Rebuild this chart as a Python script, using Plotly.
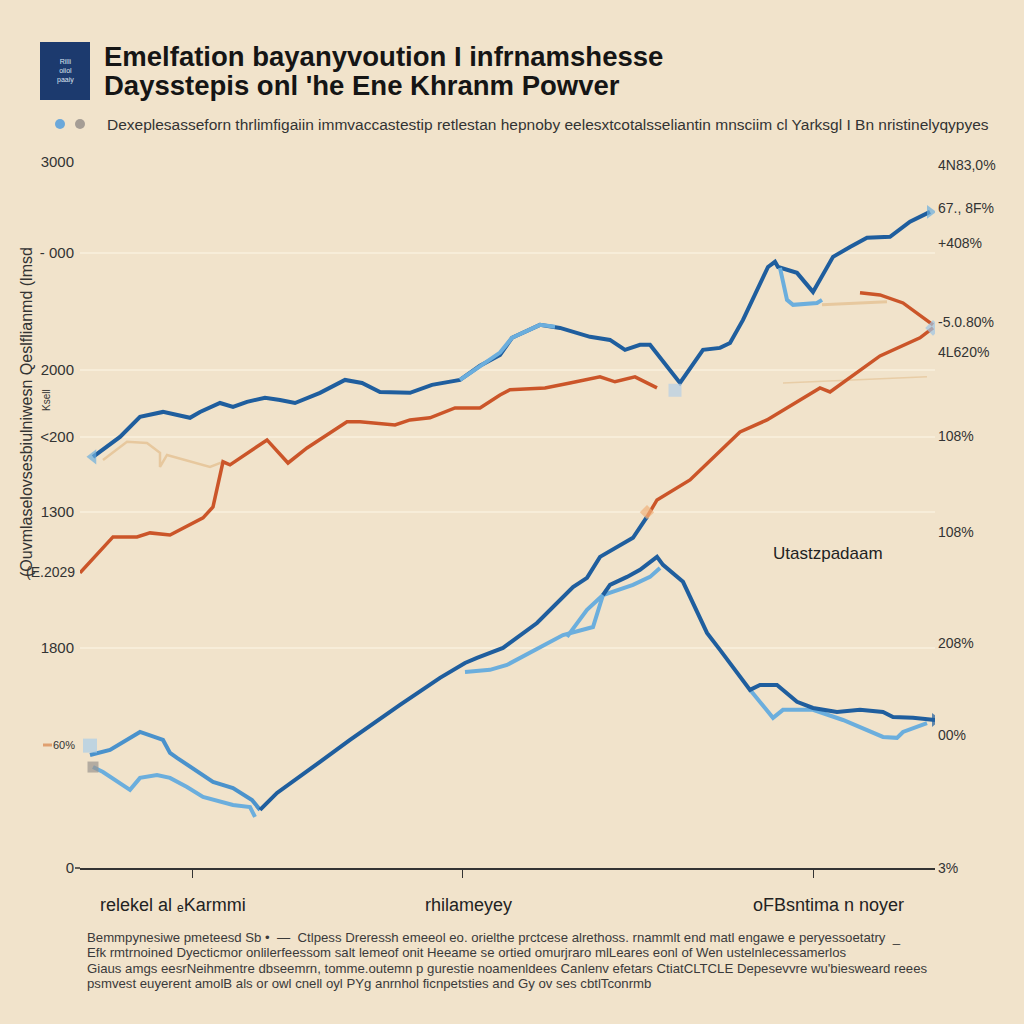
import plotly.graph_objects as go

# ---------------- data ----------------
# upper dark-blue line
up_x = [2.6, 8, 12, 16.6, 22, 24, 28, 30.6, 33.4, 37, 40, 43, 48, 53, 56.4, 60, 66, 70.4, 76, 80, 84, 86.4, 92, 96,
        102, 106, 109, 112, 114, 120, 124.6, 128, 130, 132.6, 137.6, 139, 139.6, 143.4, 146.6, 150.6, 154, 157.4, 162, 166, 170]
up_y = [1747, 1832, 1917, 1938, 1913, 1938, 1976, 1959, 1981, 1998, 1989, 1976, 2019, 2074, 2061, 2023, 2019, 2053, 2074, 2134, 2180, 2253, 2308, 2295,
        2257, 2244, 2202, 2223, 2223, 2061, 2202, 2210, 2231, 2329, 2554, 2576, 2554, 2529, 2448, 2597, 2639, 2678, 2682, 2746, 2788]
# light-blue overlay on the upper line
upl_x = [76, 80, 84, 86.4, 92, 95]
upl_y = [2074, 2134, 2190, 2253, 2308, 2300]
# light-blue branch after the upper peak
upb_x = [140, 141.4, 142.6, 147.4, 148.4]
upb_y = [2550, 2414, 2393, 2401, 2414]

# upper orange line
or_x = [0, 6.6, 11.4, 14, 18, 24.6, 26.6, 28.6, 30, 37.4, 41.6, 45.4, 53.4, 56, 63, 66, 70, 75, 80, 84, 86, 93, 98, 104, 107, 111, 115.4]
or_y = [1254, 1407, 1407, 1424, 1415, 1488, 1534, 1726, 1713, 1819, 1721, 1785, 1896, 1896, 1883, 1904, 1913, 1955, 1955, 2010, 2032, 2040, 2061, 2087, 2066, 2087, 2040]
# orange segment, upper right
or2_x = [156, 160, 164.6, 170.6]
or2_y = [2444, 2435, 2401, 2308]

# rising line: blue part then orange part
ris_x = [36, 39.4, 48, 54, 64, 72, 77, 79.4, 84.6, 91.4, 98.6, 101.4, 104, 110.6, 113.4]
ris_y = [247, 319, 451, 544, 693, 808, 871, 893, 935, 1041, 1194, 1233, 1322, 1403, 1492]
riso_x = [113.4, 115.4, 122, 132, 137.4, 148, 150, 160, 168, 170.6]
riso_y = [1492, 1564, 1649, 1853, 1904, 2040, 2023, 2176, 2253, 2295]

# lower-left medium blue line
ll_x = [2, 6, 12, 16.6, 18, 19.4, 26.6, 30.6, 34.4, 36]
ll_y = [480, 502, 578, 544, 489, 468, 366, 340, 289, 247]
# lower-left light line
lll_x = [2.6, 4.6, 10, 12, 15.4, 18, 21.4, 24.6, 30.6, 34, 35]
lll_y = [429, 408, 332, 383, 395, 383, 344, 302, 268, 259, 217]

# peak and descent (dark)
pk_x = [104.6, 106, 109.4, 112, 115.4, 116.6, 120.6, 125.4, 128, 134, 136, 139.4, 143.4, 146.6, 151.4, 156, 160.6, 162.6, 166.6, 171]
pk_y = [1160, 1203, 1237, 1267, 1322, 1288, 1216, 999, 927, 757, 778, 778, 706, 680, 663, 672, 663, 642, 638, 629]
# light line under the rising one
lm_x = [77, 82, 85.4, 96.6, 102.6, 104.6, 110.6, 114, 116]
lm_y = [833, 842, 863, 990, 1024, 1160, 1203, 1237, 1275]
lm2_x = [97.4, 101.4, 104.6]
lm2_y = [982, 1097, 1160]
# light line, lower right
lr_x = [134, 138.6, 140.6, 146.6, 152.6, 160.6, 163.4, 164.6, 169.4]
lr_y = [757, 638, 672, 672, 629, 557, 553, 578, 616]

# faint beige lines
b1_x = [4.6, 9.4, 13.4, 16, 16, 17.4, 26, 28.6]
b1_y = [1734, 1811, 1806, 1764, 1704, 1755, 1704, 1726]
b2_x = [148.4, 161.4]
b2_y = [2393, 2406]
b3_x = [140.6, 156, 169.4]
b3_y = [2061, 2074, 2087]

left_tick_vals = [3000, 2614, 2117, 1832, 1513, 935, 0]
left_tick_text = ["3000", "- 000", "2000", "<200", "1300", "1800", "0"]
right_tick_vals = [2988, 2805, 2656, 2321, 2193, 1836, 1428, 956, 565, 0]
right_tick_text = ["4N83,0%", "67., 8F%", "+408%", "-5.0.80%", "4L620%", "108%", "108%", "208%", "00%", "3%"]
cat_ticks = [22.4, 76.4, 146.6]
cat_labels = ["relekel al ₑKarmmi", "rhilameyey", "oFBsntima n noyer"]

title1 = "Emelfation bayanyvoution I infrnamshesse"
title2 = "Daysstepis onl 'he Ene Khranm Powver"
legend_text = ("Dexeplesasseforn thrlimfigaiin immvaccastestip retlestan hepnoby "
               "eelesxtcotalsseliantin mnsciim cl Yarksgl I Bn nristinelyqypyes")
foot = [
    "Bemmpynesiwe pmeteesd Sb •  —  Ctlpess Dreressh emeeol eo. orielthe prctcese alrethoss. rnammlt end matl engawe e peryessoetatry  _",
    "Efk rmtrnoined Dyecticmor onlilerfeessom salt lemeof onit Heeame se ortied omurjraro mlLeares eonl of Wen ustelnlecessamerlos",
    "Giaus amgs eesrNeihmentre dbseemrn, tomme.outemn p gurestie noamenldees Canlenv efetars CtiatCLTCLE Depesevvre wu'biesweard reees",
    "psmvest euyerent amolB als or owl cnell oyl PYg anrnhol ficnpetsties and Gy ov ses cbtlTconrmb",
]
ytitle = "(Ouvmlaselovsesbiulniwesn Qeslflianmd (lmsd"

BG = "#F1E3CB"
DARK = "#1F5E9E"
LIGHT = "#6BAEDD"
MED = "#4A92CC"
ORANGE = "#CB5529"
BEIGE = "#E7C89E"

fig = go.Figure()

def line(x, y, color, width=4, opacity=1.0):
    fig.add_trace(go.Scatter(x=x, y=y, mode="lines", line=dict(color=color, width=width),
                             opacity=opacity, hoverinfo="skip", showlegend=False))

line(b1_x, b1_y, BEIGE, 2.5)
line(b2_x, b2_y, BEIGE, 3)
line(b3_x, b3_y, BEIGE, 1.5, 0.8)
line(or_x, or_y, ORANGE, 3.5)
line(or2_x, or2_y, ORANGE, 3.5)
line(riso_x, riso_y, ORANGE, 3.5)
line(lll_x, lll_y, LIGHT, 4)
line(ll_x, ll_y, MED, 4)
line(lm_x, lm_y, LIGHT, 4)
line(lm2_x, lm2_y, LIGHT, 4)
line(lr_x, lr_y, LIGHT, 4)
line(pk_x, pk_y, DARK, 4)
line(ris_x, ris_y, DARK, 4)
line(up_x, up_y, DARK, 4)
line(upl_x, upl_y, LIGHT, 4)
line(upb_x, upb_y, LIGHT, 4)

# end markers
fig.add_trace(go.Scatter(
    x=[up_x[0], up_x[-1], riso_x[-1], pk_x[-1], ll_x[0], lll_x[0], riso_x[0], 119],
    y=[up_y[0], up_y[-1], riso_y[-1], pk_y[-1], ll_y[0] + 40, lll_y[0], riso_y[0] + 20, 2030],
    mode="markers", hoverinfo="skip", showlegend=False,
    marker=dict(symbol=["triangle-left", "triangle-right", "diamond", "triangle-right", "square", "square", "diamond", "square"],
                size=[13, 12, 12, 12, 14, 11, 11, 13],
                color=[LIGHT, LIGHT, "#9EC4E4", DARK, "#A9CDE8", "#9A948E", "#F0B07A", "#B5CFE6"],
                line=dict(width=0))))

def P(px, py):
    return dict(x=(px - 80) / 855, y=(868 - py) / 706, xref="paper", yref="paper")

ann = []
ann.append(dict(**P(102, 57), text=f"<b>{title1}</b>", showarrow=False, xanchor="left", yanchor="middle",
                font=dict(family="Liberation Sans", size=27.5, color="#151515")))
ann.append(dict(**P(102, 85), text=f"<b>{title2}</b>", showarrow=False, xanchor="left", yanchor="middle",
                font=dict(family="Liberation Sans", size=27.5, color="#151515")))
ann.append(dict(**P(65, 71), text="Rilli<br>oiiol<br>paaiy", showarrow=False, xanchor="center", yanchor="middle",
                font=dict(family="Liberation Sans", size=7, color="#DDE4F0")))
ann.append(dict(**P(105, 124), text=legend_text, showarrow=False, xanchor="left", yanchor="middle",
                font=dict(family="Liberation Sans", size=15.5, color="#333333")))
for i, t in enumerate(foot):
    ann.append(dict(**P(85, 937 + i * 15.5), text=t, showarrow=False, xanchor="left", yanchor="middle",
                    font=dict(family="Liberation Sans", size=13.2, color="#3A3A3A")))
for cx, t in zip([173, 468, 828], cat_labels):
    ann.append(dict(**P(cx, 905), text=t, showarrow=False, xanchor="center", yanchor="middle",
                    font=dict(family="Liberation Sans", size=18, color="#222222")))
ann.append(dict(**P(771, 553), text="Utastzpadaam", showarrow=False, xanchor="left", yanchor="middle",
                font=dict(family="Liberation Sans", size=17, color="#222222")))
ann.append(dict(**P(26, 412), text=ytitle, showarrow=False, textangle=-90, xanchor="center", yanchor="middle",
                font=dict(family="Liberation Sans", size=16, color="#333333")))
ann.append(dict(**P(46, 400), text="Ksell", showarrow=False, textangle=-90, xanchor="center", yanchor="middle",
                font=dict(family="Liberation Sans", size=10, color="#333333")))
ann.append(dict(**P(50, 572), text="(E.2029", showarrow=False, xanchor="center", yanchor="middle",
                font=dict(family="Liberation Sans", size=14, color="#333333")))
ann.append(dict(**P(64, 745), text="60%", showarrow=False, xanchor="center", yanchor="middle",
                font=dict(family="Liberation Sans", size=11, color="#333333")))

shapes = []
q0 = P(40, 100); q1 = P(90, 42)
shapes.append(dict(type="rect", xref="paper", yref="paper", x0=q0["x"], y0=q0["y"], x1=q1["x"], y1=q1["y"],
                   fillcolor="#1C3A6E", line=dict(width=0)))
for cx, col in [(60, "#6BA8DA"), (80, "#A59D95")]:
    a = P(cx - 5, 129); b = P(cx + 5, 119)
    shapes.append(dict(type="circle", xref="paper", yref="paper", x0=a["x"], y0=a["y"], x1=b["x"], y1=b["y"],
                       fillcolor=col, line=dict(width=0)))
a = P(43, 745); b = P(52, 745)
shapes.append(dict(type="line", xref="paper", yref="paper", x0=a["x"], y0=a["y"], x1=b["x"], y1=b["y"],
                   line=dict(color="#E0A070", width=3)))
a = P(75, 868); b = P(80, 868)
shapes.append(dict(type="line", xref="paper", yref="paper", x0=a["x"], y0=a["y"], x1=b["x"], y1=b["y"],
                   line=dict(color="#333333", width=1.5)))

fig.add_trace(go.Scatter(x=[0], y=[0], yaxis="y2", mode="markers", marker=dict(opacity=0), hoverinfo="skip", showlegend=False))

fig.update_layout(
    width=1024, height=1024,
    paper_bgcolor=BG, plot_bgcolor=BG,
    margin=dict(l=80, r=89, t=162, b=156),
    showlegend=False,
    xaxis=dict(range=[0, 171], showgrid=False, zeroline=False, showline=True, linecolor="#333333", linewidth=1.5,
               ticks="outside", ticklen=8, tickcolor="#333333", tickvals=cat_ticks, showticklabels=False),
    yaxis=dict(range=[0, 3000], showgrid=True, gridcolor="rgba(255,248,236,0.45)", gridwidth=1.5, zeroline=False,
               showline=False, tickvals=left_tick_vals, ticktext=left_tick_text, ticks="", ticklabelstandoff=5,
               tickfont=dict(family="Liberation Sans", size=15, color="#333333")),
    yaxis2=dict(range=[0, 3000], overlaying="y", side="right", showgrid=False, zeroline=False, showline=False,
                tickvals=right_tick_vals, ticktext=right_tick_text, ticks="", ticklabelstandoff=2,
                tickfont=dict(family="Liberation Sans", size=14, color="#333333")),
    annotations=ann, shapes=shapes,
)

fig.write_html("out.html", config={"displayModeBar": False},
               post_script="document.body.style.margin='0';document.body.style.background='%s';" % BG)
